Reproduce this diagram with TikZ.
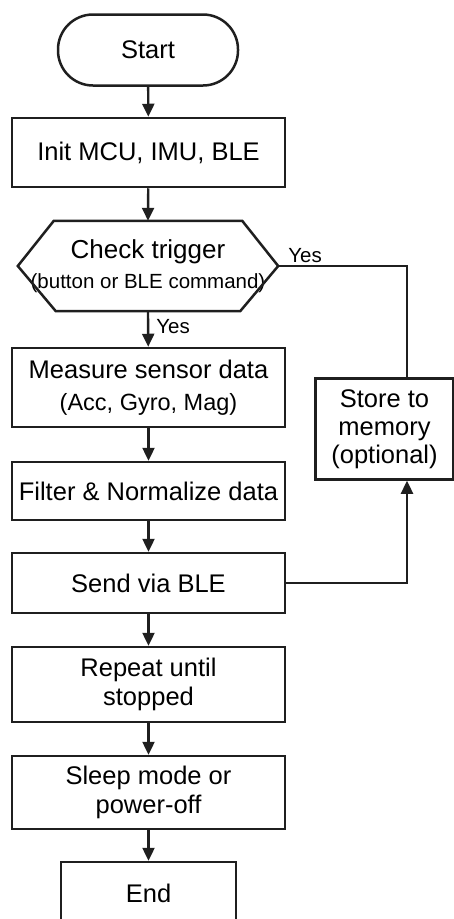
\documentclass[tikz,border=0pt]{standalone}
\usepackage{fontspec}
\setmainfont{Liberation Sans}
\usetikzlibrary{arrows.meta,calc}

\tikzset{
  flowline/.style={line width=2.4pt, draw=black!88},
  flowarrow/.style={flowline, -{Triangle[length=13pt,width=12pt]}},
  procbox/.style={draw=black!88, line width=2.5pt, rectangle, align=center,
    minimum width=273pt, inner sep=0pt,
    font=\fontsize{25.5}{29.5}\selectfont},
  termbox/.style={procbox, minimum width=180pt, minimum height=71pt,
    rounded corners=35pt},
  smalltext/.style={font=\fontsize{20.5}{24}\selectfont, inner sep=2pt},
}

\begin{document}
\begin{tikzpicture}[x=1pt, y=-1pt]
  \useasboundingbox (0,0) rectangle (454,919);
  \clip (0,0) rectangle (454,919);

  % main column
  \node[termbox] (start) at (148,50) {Start};
  \node[procbox, minimum height=69pt] (init) at (148.5,152.5) {Init MCU, IMU, BLE};

  % decision (hexagon drawn around an invisible frame node)
  \node[minimum width=260pt, minimum height=90pt, inner sep=0pt, align=center]
    (check) at (148,266)
    {\fontsize{26}{30}\selectfont Check trigger\\[9pt]
     \fontsize{20.5}{24}\selectfont (button or BLE command)};
  \draw[line width=2.5pt, draw=black!88, line join=miter]
    (check.west) -- ($(check.north west)+(36,0)$) -- ($(check.north east)+(-36,0)$)
    -- (check.east) -- ($(check.south east)+(-38,0)$) -- ($(check.south west)+(38,0)$)
    -- cycle;

  \node[procbox, minimum height=79pt] (measure) at (148.5,387.5)
    {Measure sensor data\\[3pt]{\fontsize{23.5}{28}\selectfont (Acc, Gyro, Mag)}};
  \node[procbox, minimum height=58pt] (filter) at (148.5,491) {Filter \& Normalize data};
  \node[procbox, minimum height=60pt] (send) at (148.5,583) {Send via BLE};
  \node[procbox, minimum height=75pt] (repeat) at (148.5,684.5) {Repeat until\\stopped};
  \node[procbox, minimum height=73pt] (sleep) at (148.5,792.5) {Sleep mode or\\power-off};
  \node[procbox, minimum width=175pt, minimum height=62pt] (end) at (148.5,893) {End};

  % side branch
  \node[procbox, minimum width=138pt, minimum height=101pt,
        font=\fontsize{25.5}{28}\selectfont] (store) at (384.5,429)
    {Store to\\memory\\(optional)};
  \coordinate (storein) at ($(store.north)+(22.5,0)$);
  \coordinate (storeout) at ($(store.south)+(22.5,0)$);

  % connectors
  \draw[flowarrow] (start) -- (init);
  \draw[flowarrow] (init) -- (check.north);
  \draw[flowarrow] (check.south) -- node[smalltext, right, xshift=5pt, yshift=2pt] {Yes} (measure);
  \draw[flowarrow] (measure) -- (filter);
  \draw[flowarrow] (filter) -- (send);
  \draw[flowarrow] (send) -- (repeat);
  \draw[flowarrow] (repeat) -- (sleep);
  \draw[flowarrow] (sleep) -- (end);

  \draw[flowline] (check.east) -| (storein);
  \node[smalltext, anchor=south west] (yesside) at ($(check.east)+(8,-1)$) {Yes};
  \draw[flowarrow] (send.east) -| (storeout);
\end{tikzpicture}
\end{document}
